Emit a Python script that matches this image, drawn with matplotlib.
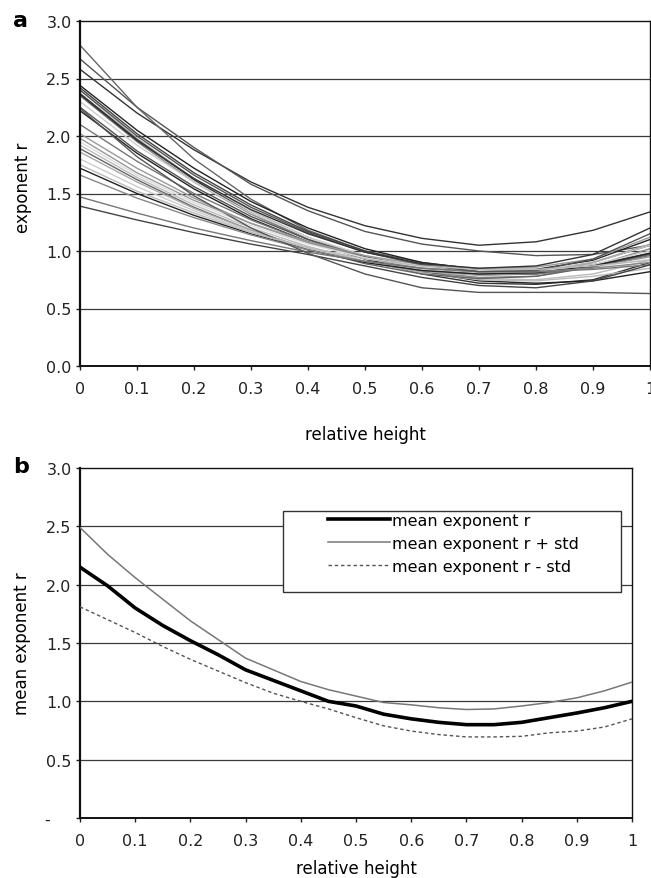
import matplotlib
matplotlib.use('Agg')
import matplotlib.pyplot as plt
from matplotlib.patches import Rectangle

plt.rcParams['font.family'] = ['DejaVu Sans']

# panel a: exponent r of every profile, read at relative height 0, 0.1, ..., 1
heights_a = [0.0, 0.1, 0.2, 0.3, 0.4, 0.5, 0.6, 0.7, 0.8, 0.9, 1.0]
profiles = [
    [2.58, 2.20, 1.88, 1.60, 1.38, 1.22, 1.11, 1.05, 1.08, 1.18, 1.34],
    [2.67, 2.25, 1.90, 1.58, 1.35, 1.17, 1.06, 1.00, 0.96, 0.97, 1.05],
    [2.79, 2.25, 1.80, 1.45, 1.18, 1.00, 0.90, 0.84, 0.83, 0.88, 0.98],
    [2.44, 2.05, 1.72, 1.43, 1.20, 1.02, 0.90, 0.84, 0.84, 0.92, 1.10],
    [2.42, 2.02, 1.68, 1.40, 1.17, 1.00, 0.88, 0.82, 0.82, 0.90, 1.05],
    [2.40, 1.98, 1.63, 1.35, 1.12, 0.95, 0.83, 0.76, 0.75, 0.80, 0.92],
    [2.37, 1.97, 1.62, 1.33, 1.10, 0.93, 0.80, 0.72, 0.71, 0.75, 0.90],
    [2.35, 1.95, 1.60, 1.32, 1.10, 0.93, 0.82, 0.77, 0.78, 0.87, 1.02],
    [2.30, 1.92, 1.60, 1.33, 1.12, 0.96, 0.86, 0.82, 0.83, 0.90, 1.05],
    [2.25, 1.87, 1.56, 1.30, 1.10, 0.95, 0.85, 0.80, 0.80, 0.86, 0.98],
    [2.22, 1.85, 1.54, 1.28, 1.08, 0.93, 0.82, 0.74, 0.72, 0.74, 0.82],
    [2.10, 1.78, 1.50, 1.27, 1.08, 0.94, 0.84, 0.79, 0.80, 0.86, 0.96],
    [2.02, 1.72, 1.46, 1.24, 1.07, 0.94, 0.86, 0.82, 0.82, 0.86, 0.95],
    [1.95, 1.66, 1.42, 1.22, 1.06, 0.94, 0.86, 0.82, 0.82, 0.86, 0.93],
    [1.92, 1.64, 1.40, 1.20, 1.04, 0.91, 0.81, 0.75, 0.74, 0.78, 0.85],
    [1.89, 1.62, 1.38, 1.18, 1.02, 0.89, 0.80, 0.76, 0.78, 0.86, 0.97],
    [1.86, 1.60, 1.37, 1.18, 1.02, 0.90, 0.82, 0.79, 0.81, 0.90, 1.06],
    [1.80, 1.56, 1.35, 1.17, 1.02, 0.91, 0.84, 0.81, 0.82, 0.88, 1.00],
    [1.72, 1.50, 1.31, 1.15, 1.01, 0.90, 0.83, 0.80, 0.81, 0.87, 0.98],
    [1.66, 1.46, 1.29, 1.14, 1.01, 0.91, 0.85, 0.82, 0.82, 0.85, 0.90],
    [1.47, 1.33, 1.20, 1.09, 0.99, 0.91, 0.85, 0.82, 0.82, 0.84, 0.88],
    [1.39, 1.27, 1.16, 1.06, 0.97, 0.87, 0.77, 0.70, 0.68, 0.74, 0.88],
    [2.24, 1.82, 1.48, 1.20, 0.98, 0.80, 0.68, 0.64, 0.64, 0.64, 0.63],
    [1.98, 1.68, 1.44, 1.24, 1.08, 0.96, 0.88, 0.85, 0.86, 0.93, 1.12],
    [2.40, 2.00, 1.66, 1.38, 1.16, 0.99, 0.88, 0.82, 0.83, 0.93, 1.15],
    [1.75, 1.52, 1.33, 1.16, 1.03, 0.93, 0.87, 0.84, 0.84, 0.87, 0.92],
    [2.36, 1.96, 1.63, 1.36, 1.15, 0.99, 0.89, 0.85, 0.87, 0.97, 1.20],
]
profile_grays = ['#333333', '#555555', '#666666', '#222222', '#444444', '#bbbbbb',
                 '#333333', '#888888', '#cccccc', '#555555', '#222222', '#777777',
                 '#999999', '#dddddd', '#bbbbbb', '#666666', '#aaaaaa', '#cccccc',
                 '#222222', '#888888', '#777777', '#444444', '#555555', '#999999',
                 '#555555', '#bbbbbb', '#333333']

# panel b: mean exponent r and mean +/- std
heights_b = [0.0, 0.05, 0.1, 0.15, 0.2, 0.25, 0.3, 0.35, 0.4, 0.45, 0.5,
             0.55, 0.6, 0.65, 0.7, 0.75, 0.8, 0.85, 0.9, 0.95, 1.0]
mean_r = [2.15, 1.99, 1.80, 1.65, 1.52, 1.40, 1.27, 1.18, 1.09, 1.00, 0.96,
          0.89, 0.85, 0.82, 0.80, 0.80, 0.82, 0.86, 0.90, 0.945, 1.00]
mean_plus = [2.49, 2.26, 2.06, 1.875, 1.69, 1.53, 1.37, 1.27, 1.17, 1.10, 1.045,
             0.99, 0.97, 0.945, 0.93, 0.935, 0.96, 0.99, 1.03, 1.09, 1.165]
mean_minus = [1.81, 1.70, 1.59, 1.47, 1.36, 1.26, 1.16, 1.07, 1.00, 0.935, 0.86,
              0.79, 0.745, 0.715, 0.695, 0.695, 0.70, 0.73, 0.745, 0.78, 0.85]

x_ticks = [0, 0.1, 0.2, 0.3, 0.4, 0.5, 0.6, 0.7, 0.8, 0.9, 1]
x_labels = ['0', '0.1', '0.2', '0.3', '0.4', '0.5', '0.6', '0.7', '0.8', '0.9', '1']
y_ticks = [0, 0.5, 1.0, 1.5, 2.0, 2.5, 3.0]
y_labels_a = ['0.0', '0.5', '1.0', '1.5', '2.0', '2.5', '3.0']
y_labels_b = ['-    ', '0.5', '1.0', '1.5', '2.0', '2.5', '3.0']

FS = 11.5


def style_axes(ax, y_labels):
    ax.set_xlim(0, 1)
    ax.set_ylim(0, 3)
    ax.set_xticks(x_ticks)
    ax.set_xticklabels(x_labels)
    ax.set_yticks(y_ticks)
    ax.set_yticklabels(y_labels)
    ax.tick_params(axis='both', direction='out', length=3, width=1,
                   labelsize=FS, colors='#222222')
    ax.tick_params(axis='x', pad=8)
    ax.tick_params(axis='y', pad=3)
    for y in y_ticks[1:-1]:
        ax.axhline(y, color='#3a3a3a', lw=0.9, zorder=1)
    ax.spines['left'].set_linewidth(1.6)
    ax.spines['bottom'].set_linewidth(1.4)
    ax.spines['top'].set_linewidth(1.0)
    ax.spines['right'].set_linewidth(1.0)
    for s in ax.spines.values():
        s.set_color('#111111')


fig = plt.figure(figsize=(6.51, 8.79), dpi=100)

# panel a
ax1 = fig.add_axes([80 / 651, 1 - 367 / 879, 570 / 651, 345 / 879])
for vals, gray in zip(profiles, profile_grays):
    ax1.plot(heights_a, vals, color=gray, lw=1.0, zorder=2)
style_axes(ax1, y_labels_a)
ax1.set_ylabel('exponent r', fontsize=FS + 0.5)
ax1.yaxis.set_label_coords(-0.085, 0.52)
ax1.set_xlabel('relative height', fontsize=FS + 0.5)
ax1.xaxis.set_label_coords(0.5, -0.17)

# panel b
ax2 = fig.add_axes([80 / 651, 1 - 819 / 879, 552 / 651, 350 / 879])
ax2.plot(heights_b, mean_r, color='black', lw=2.6, zorder=3,
         label='mean exponent r')
ax2.plot(heights_b, mean_plus, color='#777777', lw=1.1, zorder=3,
         label='mean exponent r + std')
ax2.plot(heights_b, mean_minus, color='#555555', lw=1.0, zorder=3,
         dashes=(2.5, 2), label='mean exponent r - std')
style_axes(ax2, y_labels_b)
ax2.set_ylabel('mean exponent r', fontsize=FS + 0.5)
ax2.yaxis.set_label_coords(-0.088, 0.5)
ax2.set_xlabel('relative height', fontsize=FS + 0.5)
ax2.xaxis.set_label_coords(0.5, -0.118)

box = Rectangle((203 / 552, 226 / 350), 338 / 552, 81 / 350,
                transform=ax2.transAxes, facecolor='white',
                edgecolor='#333333', lw=1.0, zorder=4)
ax2.add_patch(box)
leg = ax2.legend(loc='upper left', bbox_to_anchor=(248 / 552, 305 / 350),
                 frameon=False, fontsize=FS, handlelength=3.9,
                 handletextpad=0.1, labelspacing=0.5, borderpad=0,
                 borderaxespad=0)
leg.set_zorder(5)

fig.text(13 / 651, 1 - 27 / 879, 'a', fontsize=16, fontweight='bold')
fig.text(13 / 651, 1 - 473 / 879, 'b', fontsize=16, fontweight='bold')

fig.savefig('out.png', dpi=100)
